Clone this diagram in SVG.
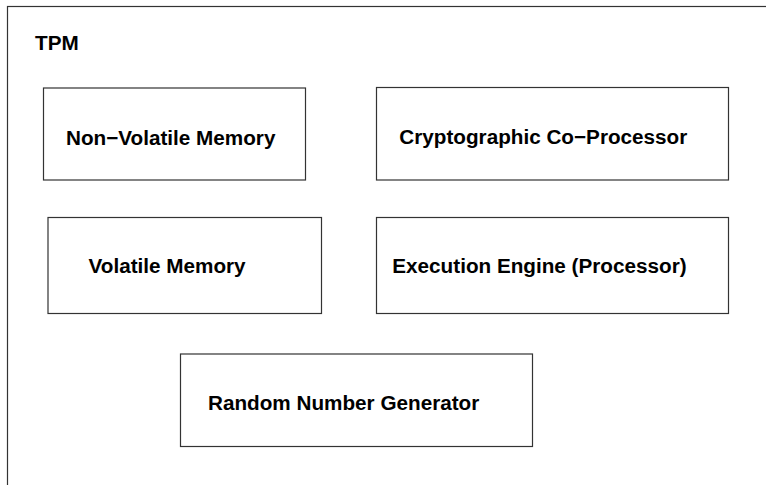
<svg xmlns="http://www.w3.org/2000/svg" width="766" height="485" viewBox="0 0 766 485">
<style>
.box{fill:#ffffff;stroke:#333333;stroke-width:1.2}
.lbl{font-family:"Liberation Sans",Arial,Helvetica,sans-serif;font-weight:bold;font-size:20.7px;fill:#000000}
</style>
<rect x="0" y="0" width="766" height="485" fill="#ffffff"/>
<g id="tpm">
<rect class="box" x="7.5" y="6.5" width="800" height="520"/>
<text class="lbl" x="35" y="50">TPM</text>
</g>
<g id="nvm">
<rect class="box" x="43.5" y="88" width="262" height="92"/>
<text class="lbl" x="66" y="145">Non−Volatile Memory</text>
</g>
<g id="crypto">
<rect class="box" x="376.5" y="87.5" width="352" height="92.5"/>
<text class="lbl" x="399.3" y="144">Cryptographic Co−Processor</text>
</g>
<g id="vm">
<rect class="box" x="48" y="217.5" width="273.5" height="96"/>
<text class="lbl" x="88.5" y="272.5">Volatile Memory</text>
</g>
<g id="exec">
<rect class="box" x="376.5" y="217.5" width="352" height="96"/>
<text class="lbl" x="392.3" y="272.5">Execution Engine (Processor)</text>
</g>
<g id="rng">
<rect class="box" x="180.5" y="354" width="352" height="92.5"/>
<text class="lbl" x="208" y="410">Random Number Generator</text>
</g>
<g id="connectors"></g>
</svg>
